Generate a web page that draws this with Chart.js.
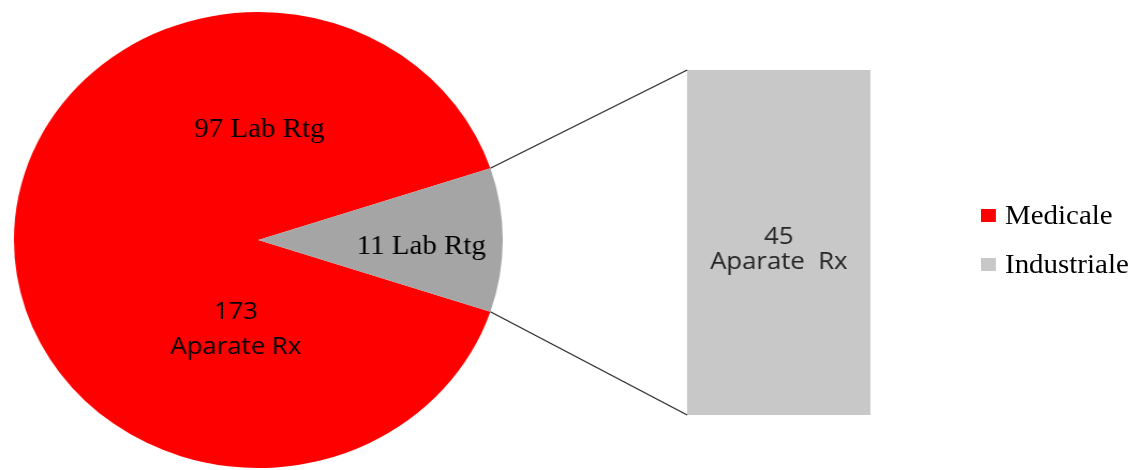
<!DOCTYPE html>
<html lang="ro">
<head>
<meta charset="UTF-8">
<title>Lab Rtg / Aparate Rx</title>
<script src="https://cdn.jsdelivr.net/npm/chart.js"></script>
<style>
    html, body {
        margin: 0;
        padding: 0;
        background: #fff;
    }
    #wrap {
        position: relative;
        width: 1139px;
        height: 470px;
        overflow: hidden;
    }
    /* the original picture is a bit wider than tall, so stretch the whole stage */
    #stage {
        position: absolute;
        left: 0;
        top: 0;
        width: 1063px;
        height: 470px;
        transform: scaleX(1.072);
        transform-origin: 0 0;
    }
    #stage canvas { position: absolute; }
    #pieChart { left: 11px; top: 10px; }
    #barChart { left: 641px; top: 70px; }
    #links { left: 0; top: 0; pointer-events: none; }
    .leg-box {
        position: absolute;
        width: 14px;
        height: 13px;
    }
    .leg-text {
        position: absolute;
        font-family: "Liberation Serif", "Times New Roman", serif;
        font-size: 27px;
        line-height: 27px;
        color: #000;
        white-space: nowrap;
    }
</style>
</head>
<body>
<div id="wrap">
    <div id="stage">
        <canvas id="pieChart" width="460" height="460"></canvas>
        <canvas id="barChart" width="171" height="345"></canvas>
        <canvas id="links" width="1063" height="470"></canvas>
        <div id="legend"></div>
    </div>
</div>

<script>
    const categories = ['Medicale', 'Industriale'];
    const labRtg = [97, 11];        // drawn as the pie
    const aparateRx = [173, 45];    // written as labels, Industriale drawn as the bar
    const pieColors = ['#FF0000', '#A5A5A5'];
    const legendColors = ['#FF0000', '#C8C8C8'];
    const barColor = '#C8C8C8';

    const serif = '"Liberation Serif", "Times New Roman", serif';
    const sans = '"Open Sans", "Liberation Sans", sans-serif';

    // turn the pie so the Industriale slice points straight right
    const total = labRtg.reduce((a, b) => a + b, 0);
    const rotation = 90 - 360 * (labRtg[0] + labRtg[1] / 2) / total;

    const pieText = {
        id: 'pieText',
        afterDatasetsDraw(chart) {
            const arcs = chart.getDatasetMeta(0).data;
            const x = arcs[0].x, y = arcs[0].y;
            const g = arcs[1];
            const mid = (g.startAngle + g.endAngle) / 2;
            const ctx = chart.ctx;
            ctx.save();
            ctx.textAlign = 'center';
            ctx.textBaseline = 'alphabetic';
            ctx.fillStyle = '#000';
            ctx.font = '27px ' + serif;
            ctx.fillText(labRtg[0] + ' Lab Rtg', x + 1, y - 103);
            ctx.fillText(labRtg[1] + ' Lab Rtg', x + Math.cos(mid) * 152, y + Math.sin(mid) * 152 + 14);
            ctx.font = '24px ' + sans;
            ctx.fillText(String(aparateRx[0]), x - 21, y + 79);
            ctx.fillText('Aparate Rx', x - 21, y + 114);
            ctx.restore();
        }
    };

    const barText = {
        id: 'barText',
        afterDatasetsDraw(chart) {
            const bar = chart.getDatasetMeta(0).data[0];
            const cy = (bar.y + bar.base) / 2;
            const ctx = chart.ctx;
            ctx.save();
            ctx.textAlign = 'center';
            ctx.textBaseline = 'alphabetic';
            ctx.fillStyle = '#262626';
            ctx.font = '24px ' + sans;
            ctx.fillText(String(aparateRx[1]), bar.x, cy + 1);
            ctx.fillText('Aparate  Rx', bar.x, cy + 26);
            ctx.restore();
        }
    };

    const pieChart = new Chart(document.getElementById('pieChart'), {
        type: 'pie',
        data: {
            labels: categories,
            datasets: [{
                data: labRtg,
                backgroundColor: pieColors,
                borderWidth: 0,
                hoverOffset: 0
            }]
        },
        options: {
            responsive: false,
            animation: false,
            events: [],
            rotation: rotation,
            layout: { padding: 2 },
            plugins: {
                legend: { display: false },
                tooltip: { enabled: false }
            }
        },
        plugins: [pieText]
    });

    const barChart = new Chart(document.getElementById('barChart'), {
        type: 'bar',
        data: {
            labels: [categories[1]],
            datasets: [{
                data: [aparateRx[1]],
                backgroundColor: barColor,
                borderWidth: 0,
                barPercentage: 1,
                categoryPercentage: 1
            }]
        },
        options: {
            responsive: false,
            animation: false,
            events: [],
            layout: { padding: 0 },
            scales: {
                x: { display: false },
                y: { display: false, min: 0, max: aparateRx[1] }
            },
            plugins: {
                legend: { display: false },
                tooltip: { enabled: false }
            }
        },
        plugins: [barText]
    });

    // connector lines from the grey slice to the bar
    function drawLinks() {
        const c = document.getElementById('links').getContext('2d');
        const pc = pieChart.canvas, bc = barChart.canvas;
        const arc = pieChart.getDatasetMeta(0).data[1];
        const bar = barChart.getDatasetMeta(0).data[0];
        const ax = pc.offsetLeft + arc.x, ay = pc.offsetTop + arc.y;
        const r = arc.outerRadius;
        const left = bc.offsetLeft + bar.x - bar.width / 2;
        const top = bc.offsetTop + bar.y, bottom = bc.offsetTop + bar.base;
        c.strokeStyle = '#262626';
        c.lineWidth = 1.2;
        c.beginPath();
        c.moveTo(ax + r * Math.cos(arc.startAngle), ay + r * Math.sin(arc.startAngle));
        c.lineTo(left, top);
        c.moveTo(ax + r * Math.cos(arc.endAngle), ay + r * Math.sin(arc.endAngle));
        c.lineTo(left, bottom);
        c.stroke();
    }
    drawLinks();

    // legend
    const legend = document.getElementById('legend');
    categories.forEach((name, i) => {
        const box = document.createElement('div');
        box.className = 'leg-box';
        box.style.left = '915px';
        box.style.top = (208.5 + i * 49.5) + 'px';
        box.style.background = legendColors[i];
        legend.appendChild(box);
        const txt = document.createElement('div');
        txt.className = 'leg-text';
        txt.style.left = '937.5px';
        txt.style.top = (201.7 + i * 49) + 'px';
        txt.textContent = name;
        legend.appendChild(txt);
    });
</script>
</body>
</html>
